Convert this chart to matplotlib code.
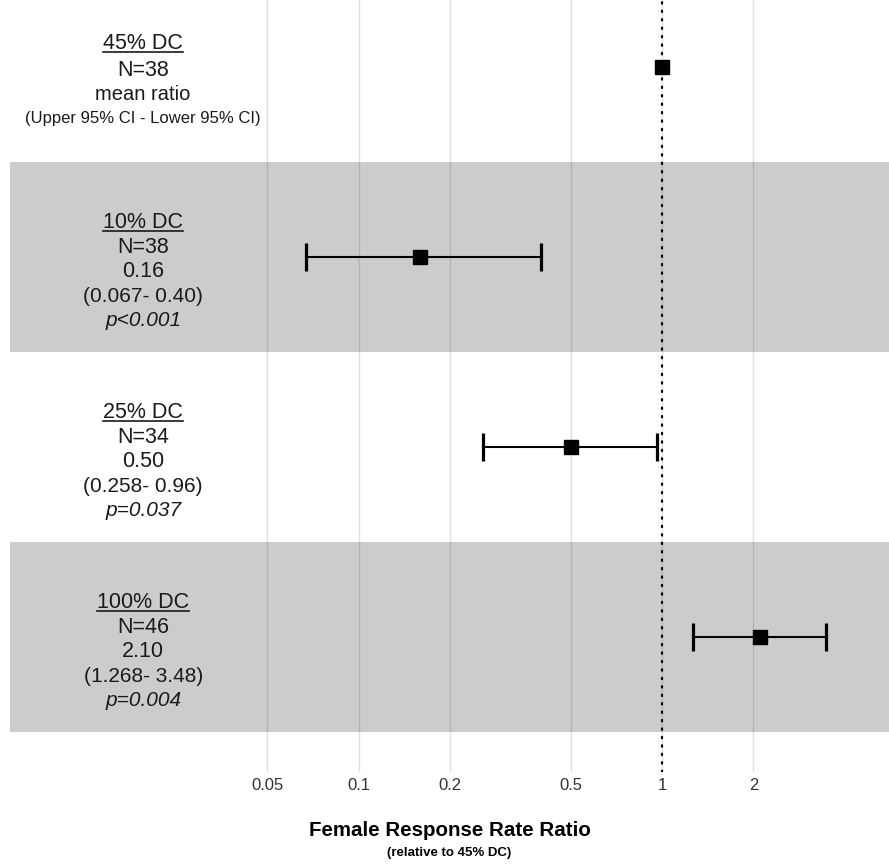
import matplotlib
matplotlib.use("Agg")
import matplotlib.pyplot as plt
from matplotlib.lines import Line2D
from matplotlib.ticker import FixedLocator, FixedFormatter, NullLocator
import numpy as np

# ---------------- data ----------------
groups = ["45% DC", "10% DC", "25% DC", "100% DC"]
n_values = [38, 38, 34, 46]
ratios = [1.0, 0.16, 0.50, 2.10]
ci_lower = [np.nan, 0.067, 0.258, 1.268]
ci_upper = [np.nan, 0.40, 0.96, 3.48]
ratio_labels = ["mean ratio", "0.16", "0.50", "2.10"]
ci_labels = ["(Upper 95% CI - Lower 95% CI)", "(0.067- 0.40)", "(0.258- 0.96)", "(1.268- 3.48)"]
p_labels = ["", "p<0.001", "p=0.037", "p=0.004"]
x_ticks = [0.05, 0.1, 0.2, 0.5, 1, 2]
x_tick_labels = ["0.05", "0.1", "0.2", "0.5", "1", "2"]
xlabel = "Female Response Rate Ratio"
xlabel_sub = "(relative to 45% DC)"

# ---------------- style ----------------
plt.rcParams["font.family"] = ["Liberation Sans", "DejaVu Sans"]
TXT = "#1a1a1a"
W, H = 889, 864
fig = plt.figure(figsize=(W / 100, H / 100), dpi=100)
ax = fig.add_axes([10 / W, (H - 772) / H, 879 / W, 772 / H])

ypos = [4, 3, 2, 1]
ax.set_xscale("log")
ax.set_xlim(0.0071, 5.6)
ax.set_ylim(0.289, 4.353)

# shaded bands for alternate rows
for i, y in enumerate(ypos):
    if i % 2 == 1:
        ax.axhspan(y - 0.5, y + 0.5, color="#cccccc", lw=0, zorder=1)

# grid
ax.xaxis.set_major_locator(FixedLocator(x_ticks))
ax.xaxis.set_major_formatter(FixedFormatter(x_tick_labels))
ax.xaxis.set_minor_locator(NullLocator())
ax.grid(axis="x", which="major", color="black", alpha=0.12, lw=1.0, zorder=1.5)
ax.set_yticks([])
ax.tick_params(axis="x", length=0, pad=4, labelsize=12, labelcolor="#333333")
for s in ax.spines.values():
    s.set_visible(False)

# reference line
ax.axvline(1, color="black", lw=1.6, ls=(0, (0.6, 3.2)), dash_capstyle="round", zorder=2)

# error bars
r = np.array(ratios[1:])
lo = np.array(ci_lower[1:])
hi = np.array(ci_upper[1:])
ax.errorbar(r, ypos[1:], xerr=[r - lo, hi - r], fmt="none", ecolor="black",
            elinewidth=1.5, capsize=10, capthick=2.3, zorder=3)
ax.plot(ratios, ypos, "s", ms=10, color="black", zorder=4)

# row labels
x_text = 0.0195
fig.canvas.draw()
underlines = []
for i, y in enumerate(ypos):
    if i == 0:
        lines = [(groups[i], 15.5, "normal", True),
                 (f"N={n_values[i]}", 15.5, "normal", False),
                 (ratio_labels[i], 14.5, "normal", False),
                 (ci_labels[i], 12, "normal", False)]
        offs = [-18, 9, 33, 56]
    else:
        lines = [(groups[i], 15.5, "normal", True),
                 (f"N={n_values[i]}", 15.5, "normal", False),
                 (ratio_labels[i], 15.5, "normal", False),
                 (ci_labels[i], 15, "normal", False),
                 (p_labels[i], 15, "italic", False)]
        offs = [-29, -4, 20, 45, 69]
    for (txt, fs, style, ul), off in zip(lines, offs):
        t = ax.annotate(txt, xy=(x_text, y), xytext=(0, -off), textcoords="offset pixels",
                        ha="center", va="baseline", fontsize=fs, style=style, color=TXT,
                        zorder=5)
        if ul:
            underlines.append((t, y, off))

fig.canvas.draw()
renderer = fig.canvas.get_renderer()
for t, y, off in underlines:
    bb = t.get_window_extent(renderer)
    bx, by = ax.transData.transform((x_text, y))
    yb = by - off - 3
    fig.add_artist(Line2D([bb.x0 / W, bb.x1 / W], [yb / H, yb / H],
                          transform=fig.transFigure, color=TXT, lw=1.2))

# axis title
fig.text((10 + 889) / 2 / W, 1 - 830 / H, xlabel, ha="center", va="center",
         fontsize=14.8, fontweight="bold", color="black")
fig.text((10 + 889) / 2 / W, 1 - 853 / H, xlabel_sub, ha="center", va="center",
         fontsize=9.5, fontweight="bold", color="black")

fig.savefig("out.png", dpi=100)
